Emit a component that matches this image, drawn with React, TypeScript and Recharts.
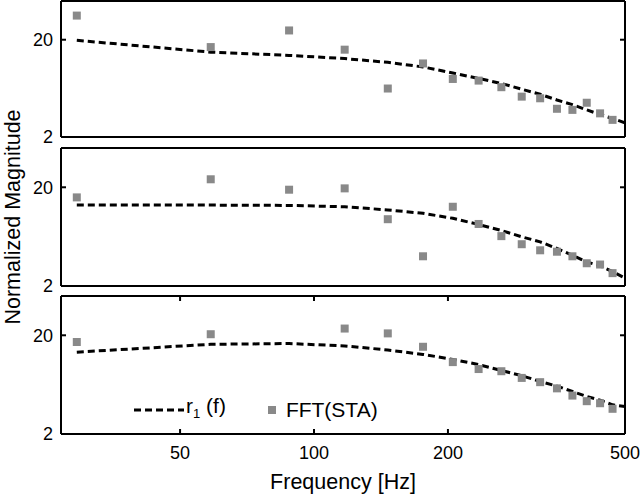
import React from 'react';
import { ComposedChart, Line, Scatter, XAxis, YAxis, Legend } from 'recharts';

const FONT = '"Liberation Sans", Arial, Helvetica, sans-serif';

// FFT bin frequencies [Hz]
const fftFreqs = [29.3, 58.6, 87.9, 117.2, 146.5, 175.8, 205.1, 234.4, 263.7, 293, 322.3, 351.6, 380.9, 410.2, 439.5, 468.8];
// bottom panel has no point near 88 Hz
const fftFreqs3 = [29.3, 58.6, 117.2, 146.5, 175.8, 205.1, 234.4, 263.7, 293, 322.3, 351.6, 380.9, 410.2, 439.5, 468.8];
// r1(f) model curve sample frequencies [Hz]
const fitFreqs = [29.3, 58.6, 87.9, 117.2, 146.5, 175.8, 205.1, 234.4, 263.7, 293, 322.3, 351.6, 380.9, 410.2, 439.5, 468.8, 500];

const fft1 = [35.4, 16.8, 24.9, 15.8, 6.3, 11.4, 7.9, 7.6, 6.5, 5.2, 5.0, 3.9, 3.8, 4.5, 3.5, 3.0];
const fft2 = [15.8, 24.1, 18.9, 19.5, 9.5, 4.0, 12.7, 8.5, 6.4, 5.3, 4.6, 4.45, 4.0, 3.4, 3.3, 2.7];
const fft3 = [17.1, 20.5, 23.4, 20.9, 15.3, 10.7, 9.1, 8.65, 7.4, 6.7, 5.8, 4.9, 4.3, 4.1, 3.6];

const fit1 = [19.7, 14.9, 13.8, 12.8, 11.7, 10.5, 9.1, 8.0, 7.1, 6.2, 5.5, 4.8, 4.3, 3.8, 3.4, 3.1, 2.8];
const fit2 = [13.2, 13.2, 13.1, 12.7, 11.8, 10.9, 9.7, 8.4, 7.3, 6.3, 5.6, 4.8, 4.1, 3.5, 3.2, 2.8, 2.4];
const fit3 = [13.5, 16.2, 16.5, 15.6, 14.2, 12.8, 11.4, 10.1, 8.8, 7.8, 6.8, 6.1, 5.4, 4.8, 4.4, 3.95, 3.8];

const xTicks = [50, 100, 200, 500];
const yTicks = [2, 20];

const X_DOMAIN: [number, number] = [27, 500];
const Y_DOMAIN: [number, number] = [2, 50];

const CHART_W = 640;
const Y_AXIS_W = 61;
const MARGIN_RIGHT = 15;
const PLOT_RIGHT = CHART_W - MARGIN_RIGHT;
const Y_TICK_MARGIN = 8;
const X_TICK_MARGIN = 12;
const TICK_LEN = 5;

const FRAME = { stroke: '#000', strokeWidth: 2 };

// y labels plus the small inward marks at 20 on both frame sides
const YTick = (props: any) => {
  const { x, y, payload } = props;
  const axisX = x + Y_TICK_MARGIN;
  const inner = payload.value === 20;
  return (
    <g>
      <text x={x} y={y} dy="0.355em" textAnchor="end" fill="#000" fontSize={18} fontFamily={FONT}>
        {payload.value}
      </text>
      {inner && <line x1={axisX} x2={axisX + TICK_LEN} y1={y} y2={y} stroke="#000" strokeWidth={2} />}
      {inner && <line x1={PLOT_RIGHT} x2={PLOT_RIGHT - TICK_LEN} y1={y} y2={y} stroke="#000" strokeWidth={2} />}
    </g>
  );
};

// x labels plus inward marks on the bottom and top frame edges
const makeXTick = (plotTop: number) => (props: any) => {
  const { x, y, payload } = props;
  const axisY = y - X_TICK_MARGIN;
  const inner = payload.value !== 500;
  return (
    <g>
      <text x={x} y={y} dy="0.71em" textAnchor="middle" fill="#000" fontSize={18} fontFamily={FONT}>
        {payload.value}
      </text>
      {inner && <line x1={x} x2={x} y1={axisY} y2={axisY - TICK_LEN} stroke="#000" strokeWidth={2} />}
      {inner && <line x1={x} x2={x} y1={plotTop} y2={plotTop + TICK_LEN} stroke="#000" strokeWidth={2} />}
    </g>
  );
};

const Square = (props: any) => {
  const { cx, cy } = props;
  if (cx == null || cy == null) return null;
  return <rect x={cx - 4} y={cy - 4} width={8} height={8} fill="#898989" />;
};

const renderLegend = (props: any) => {
  const payload = [...(props.payload || [])].sort((a: any, b: any) => (a.type === 'line' ? -1 : 0) - (b.type === 'line' ? -1 : 0));
  return (
    <div style={{ display: 'flex', alignItems: 'center', fontFamily: FONT, fontSize: 21, color: '#000', lineHeight: '24px', whiteSpace: 'nowrap' }}>
      {payload.map((entry: any) =>
        entry.type === 'line' ? (
          <span key="fit" style={{ display: 'flex', alignItems: 'center' }}>
            <svg width={50} height={6}>
              <line x1={0} x2={50} y1={3} y2={3} stroke="#000" strokeWidth={3} strokeDasharray="7 4" />
            </svg>
            <span style={{ marginLeft: 2 }}>
              r<sub style={{ fontSize: 13 }}>1</sub> (f)
            </span>
          </span>
        ) : (
          <span key="fft" style={{ display: 'flex', alignItems: 'center', marginLeft: 42 }}>
            <span style={{ display: 'inline-block', width: 8, height: 8, background: '#898989' }} />
            <span style={{ marginLeft: 10 }}>{entry.value}</span>
          </span>
        )
      )}
    </div>
  );
};

interface PanelProps {
  top: number;
  height: number;
  marginTop: number;
  marginBottom: number;
  fit: number[];
  fftX: number[];
  fftY: number[];
  last?: boolean;
  yTitle?: boolean;
}

const Panel: React.FC<PanelProps> = ({ top, height, marginTop, marginBottom, fit, fftX, fftY, last, yTitle }) => {
  const fitData = fitFreqs.map((f, i) => ({ f, v: fit[i] }));
  const fftData = fftX.map((f, i) => ({ f, v: fftY[i] }));

  return (
    <div style={{ position: 'absolute', left: 0, top }}>
      <ComposedChart
        width={CHART_W}
        height={height}
        margin={{ top: marginTop, right: MARGIN_RIGHT, bottom: marginBottom, left: 0 }}
      >
        <XAxis
          xAxisId="x"
          dataKey="f"
          type="number"
          scale="log"
          domain={X_DOMAIN}
          allowDataOverflow
          ticks={xTicks}
          mirror={!last}
          height={last ? 63 : 30}
          tick={last ? makeXTick(marginTop) : false}
          tickLine={false}
          tickSize={0}
          tickMargin={X_TICK_MARGIN}
          axisLine={FRAME}
          label={
            last
              ? { value: 'Frequency [Hz]', position: 'insideBottom', offset: 8.5, fill: '#000', fontSize: 21.5, fontFamily: FONT }
              : undefined
          }
        />
        <XAxis
          xAxisId="xt"
          orientation="top"
          type="number"
          scale="log"
          domain={X_DOMAIN}
          allowDataOverflow
          mirror
          tick={false}
          tickLine={false}
          axisLine={FRAME}
        />
        <YAxis
          yAxisId="y"
          dataKey="v"
          type="number"
          scale="log"
          domain={Y_DOMAIN}
          allowDataOverflow
          ticks={yTicks}
          width={Y_AXIS_W}
          tick={YTick}
          tickLine={false}
          tickSize={0}
          tickMargin={Y_TICK_MARGIN}
          axisLine={FRAME}
          label={
            yTitle
              ? {
                  value: 'Normalized Magnitude',
                  angle: -90,
                  position: 'insideLeft',
                  offset: 12,
                  fill: '#000',
                  fontSize: 21.5,
                  fontFamily: FONT,
                  style: { textAnchor: 'middle' },
                }
              : undefined
          }
        />
        <YAxis
          yAxisId="yr"
          orientation="right"
          type="number"
          scale="log"
          domain={Y_DOMAIN}
          allowDataOverflow
          mirror
          tick={false}
          tickLine={false}
          axisLine={FRAME}
        />
        <Line
          xAxisId="x"
          yAxisId="y"
          data={fitData}
          dataKey="v"
          name="r1 (f)"
          type="linear"
          stroke="#000"
          strokeWidth={3}
          strokeDasharray="7 4"
          dot={false}
          activeDot={false}
          isAnimationActive={false}
        />
        <Scatter
          xAxisId="x"
          yAxisId="y"
          data={fftData}
          dataKey="v"
          name="FFT(STA)"
          legendType="square"
          fill="#898989"
          shape={Square}
          isAnimationActive={false}
        />
        {last && (
          <Legend
            layout="horizontal"
            verticalAlign="middle"
            align="center"
            content={renderLegend}
            wrapperStyle={{ left: 134, top: 108, width: 'auto' }}
          />
        )}
      </ComposedChart>
    </div>
  );
};

export default function App() {
  return (
    <div style={{ position: 'absolute', left: 0, top: 0, width: 640, height: 497, background: '#fff', overflow: 'hidden' }}>
      <style>{'.recharts-surface{overflow:visible}'}</style>
      <Panel top={0} height={150} marginTop={1} marginBottom={13} fit={fit1} fftX={fftFreqs} fftY={fft1} />
      <Panel top={138} height={160} marginTop={10} marginBottom={12} fit={fit2} fftX={fftFreqs} fftY={fft2} yTitle />
      <Panel top={286} height={211} marginTop={10} marginBottom={0} fit={fit3} fftX={fftFreqs3} fftY={fft3} last />
    </div>
  );
}
